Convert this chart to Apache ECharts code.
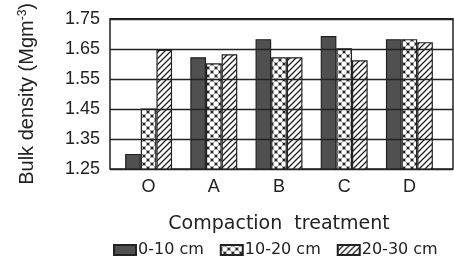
<!DOCTYPE html>
<html>
<head>
<meta charset="utf-8">
<script src="https://cdn.jsdelivr.net/npm/echarts@6/dist/echarts.min.js"></script>
<style>
  html, body { margin: 0; padding: 0; background: #fff; }
  #chart { width: 454px; height: 263px; }
</style>
</head>
<body>
<div id="chart"></div>
<script>
// data
const categories = ['O', 'A', 'B', 'C', 'D']
const depth0to10 = [1.30, 1.62, 1.68, 1.69, 1.68]
const depth10to20 = [1.45, 1.60, 1.62, 1.65, 1.68]
const depth20to30 = [1.645, 1.63, 1.62, 1.61, 1.67]
const seriesNames = ['0-10 cm', '10-20 cm', '20-30 cm']
const yTicks = [1.25, 1.35, 1.45, 1.55, 1.65, 1.75]

const ink = '#222'

// crosshatch with round holes
function crossPattern() {
  const c = document.createElement('canvas')
  c.width = 8; c.height = 8
  const g = c.getContext('2d')
  g.fillStyle = '#222'
  g.fillRect(0, 0, 8, 8)
  g.fillStyle = '#fff'
  g.beginPath(); g.arc(4, 4, 2.7, 0, Math.PI * 2); g.fill()
  ;[[0, 0], [8, 0], [0, 8], [8, 8]].forEach(p => {
    g.beginPath(); g.arc(p[0], p[1], 2.7, 0, Math.PI * 2); g.fill()
  })
  return c
}

// diagonal "/" hatch
function hatchPattern() {
  const c = document.createElement('canvas')
  c.width = 6; c.height = 6
  const g = c.getContext('2d')
  g.fillStyle = '#fff'
  g.fillRect(0, 0, 6, 6)
  g.strokeStyle = '#222'
  g.lineWidth = 1.3
  g.beginPath()
  g.moveTo(-1, 7); g.lineTo(7, -1)
  g.moveTo(-1, 1); g.lineTo(1, -1)
  g.moveTo(5, 7); g.lineTo(7, 5)
  g.stroke()
  return c
}

const fills = [
  '#505050',
  { image: crossPattern(), repeat: 'repeat' },
  { image: hatchPattern(), repeat: 'repeat' }
]
const values = [depth0to10, depth10to20, depth20to30]

const chart = echarts.init(document.getElementById('chart'))

const yBase = {
  type: 'value',
  min: yTicks[0],
  max: yTicks[yTicks.length - 1],
  interval: 0.1
}

const option = {
  animation: false,
  textStyle: { fontFamily: 'Liberation Sans' },
  grid: [
    // frame with gridlines
    { left: 110, top: 18, right: 1, height: 151, show: true, borderColor: ink, borderWidth: 1.5, backgroundColor: 'transparent' },
    // bars
    { left: 116, top: 18, width: 326, height: 151 }
  ],
  legend: {
    left: 108,
    top: 237,
    icon: 'rect',
    itemWidth: 22,
    itemHeight: 10,
    itemGap: 16,
    textStyle: { fontSize: 16, color: ink, fontFamily: 'DejaVu Sans', padding: [0, 0, 0, -3] },
    data: seriesNames
  },
  xAxis: [
    { gridIndex: 0, type: 'value', min: 0, max: 1, show: false },
    {
      gridIndex: 1,
      type: 'category',
      data: categories,
      axisLine: { show: false },
      axisTick: { show: false },
      axisLabel: { fontSize: 18, color: ink, margin: 9 },
      name: 'Compaction  treatment',
      nameLocation: 'middle',
      nameGap: 46,
      nameTextStyle: { fontSize: 19, color: ink, fontFamily: 'DejaVu Sans' }
    }
  ],
  yAxis: [
    {
      ...yBase,
      gridIndex: 0,
      z: 5,
      axisLine: { show: false },
      axisTick: { show: false },
      splitLine: { lineStyle: { color: ink, width: 1.4 } },
      axisLabel: {
        fontSize: 18,
        color: ink,
        margin: 10,
        formatter: v => v.toFixed(2)
      },
      name: '{n|Bulk density (Mgm}{s|-3}{n|)}',
      nameLocation: 'middle',
      nameGap: 72,
      nameTextStyle: {
        rich: {
          n: { fontSize: 20, color: ink, fontFamily: 'Liberation Sans' },
          s: { fontSize: 12, color: ink, fontFamily: 'Liberation Sans', verticalAlign: 'top', padding: [0, 0, 9, 0] }
        }
      }
    },
    { ...yBase, gridIndex: 1, show: false }
  ],
  series: seriesNames.map((name, i) => ({
    name,
    type: 'bar',
    xAxisIndex: 1,
    yAxisIndex: 1,
    data: values[i],
    barGap: '0%',
    barCategoryGap: '28%',
    itemStyle: { color: fills[i], borderColor: ink, borderWidth: 1.2 }
  }))
}

chart.setOption(option)
</script>
</body>
</html>
